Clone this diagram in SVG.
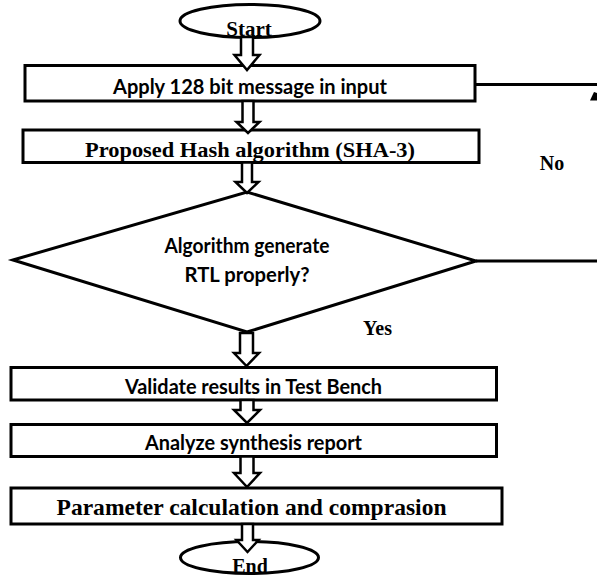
<svg xmlns="http://www.w3.org/2000/svg" width="597" height="575" viewBox="0 0 597 575">
  <style>
    .shape { fill: #fff; stroke: #000; stroke-width: 3; }
    .arrow { fill: #fff; stroke: #000; stroke-width: 2.5; stroke-linejoin: miter; }
    .line { fill: none; stroke: #000; stroke-width: 3; }
    .sans { font-family: Lato, "Open Sans", "Liberation Sans", sans-serif; font-weight: bold; fill: #000; }
    .serif { font-family: "Liberation Serif", "DejaVu Serif", serif; font-weight: bold; fill: #000; }
  </style>
  <rect width="597" height="575" fill="#fff"/>

  <!-- terminator: start -->
  <g id="start">
    <ellipse class="shape" cx="250" cy="21" rx="70" ry="16.5"/>
    <text class="serif" x="249" y="36" font-size="21" text-anchor="middle">Start</text>
  </g>

  <g id="apply-input">
    <rect class="shape" x="25" y="65.5" width="450" height="35.5"/>
    <text class="sans" x="250" y="94" font-size="21" text-anchor="middle" textLength="274" lengthAdjust="spacingAndGlyphs">Apply 128 bit message in input</text>
  </g>

  <g id="hash-algorithm">
    <rect class="shape" x="23" y="130" width="456" height="32.5"/>
    <text class="serif" x="250" y="156.5" font-size="21" text-anchor="middle" textLength="330" lengthAdjust="spacingAndGlyphs">Proposed Hash algorithm (SHA-3)</text>
  </g>

  <g id="rtl-check">
    <polygon class="shape" points="13,260 247,192 476,261 247,332"/>
    <text class="sans" x="247" y="252.5" font-size="20" text-anchor="middle" textLength="165" lengthAdjust="spacingAndGlyphs">Algorithm generate</text>
    <text class="sans" x="247" y="281.5" font-size="20" text-anchor="middle" textLength="125" lengthAdjust="spacingAndGlyphs">RTL properly?</text>
  </g>

  <g id="validate">
    <rect class="shape" x="11" y="367.5" width="485.5" height="32.5"/>
    <text class="sans" x="253.5" y="393.5" font-size="21" text-anchor="middle" textLength="257" lengthAdjust="spacingAndGlyphs">Validate results in Test Bench</text>
  </g>

  <g id="synthesis">
    <rect class="shape" x="11" y="424.5" width="485.5" height="32"/>
    <text class="sans" x="253.5" y="450" font-size="21" text-anchor="middle" textLength="217" lengthAdjust="spacingAndGlyphs">Analyze synthesis report</text>
  </g>

  <g id="parameters">
    <rect class="shape" x="11" y="488" width="491" height="36"/>
    <text class="serif" x="251.5" y="515" font-size="23" text-anchor="middle" textLength="390" lengthAdjust="spacingAndGlyphs">Parameter calculation and comprasion</text>
  </g>

  <!-- terminator: end -->
  <g id="end">
    <ellipse class="shape" cx="249.5" cy="557.5" rx="69" ry="16"/>
    <text class="serif" x="250" y="572.5" font-size="20" text-anchor="middle">End</text>
  </g>

  <!-- branch labels -->
  <g id="labels">
    <text class="serif" x="552" y="170" font-size="20" text-anchor="middle">No</text>
    <text class="serif" x="377.5" y="335" font-size="20" text-anchor="middle">Yes</text>
  </g>

  <!-- connectors -->
  <g id="connectors">
    <!-- feedback lines on the right -->
    <line class="line" x1="475" y1="84.5" x2="597" y2="84.5"/>
    <polygon points="594,92 590,100.5 597,100.5 597,93" fill="#000"/>
    <line class="line" x1="476" y1="261" x2="597" y2="261"/>

    <!-- hollow block arrows -->
    <polygon class="arrow" points="241,37 241,55 234.5,55 247,70 259.5,55 253,55 253,37"/>
    <polygon class="arrow" points="242.5,101 242.5,122 236.5,122 248,133 259.5,122 253.5,122 253.5,101"/>
    <polygon class="arrow" points="242,162.5 242,182 235.5,182 247,193 258.5,182 252,182 252,162.5"/>
    <polygon class="arrow" points="240,333 240,353 234,353 246.5,366 259,353 253,353 253,333"/>
    <polygon class="arrow" points="240.5,400 240.5,410 234,410 247,423 260,410 253.5,410 253.5,400"/>
    <polygon class="arrow" points="240.5,456.5 240.5,473 234,473 247,487 260,473 253.5,473 253.5,456.5"/>
    <polygon class="arrow" points="242,524 242,540 236.5,540 247.5,552 258.5,540 253,540 253,524"/>
  </g>
</svg>
